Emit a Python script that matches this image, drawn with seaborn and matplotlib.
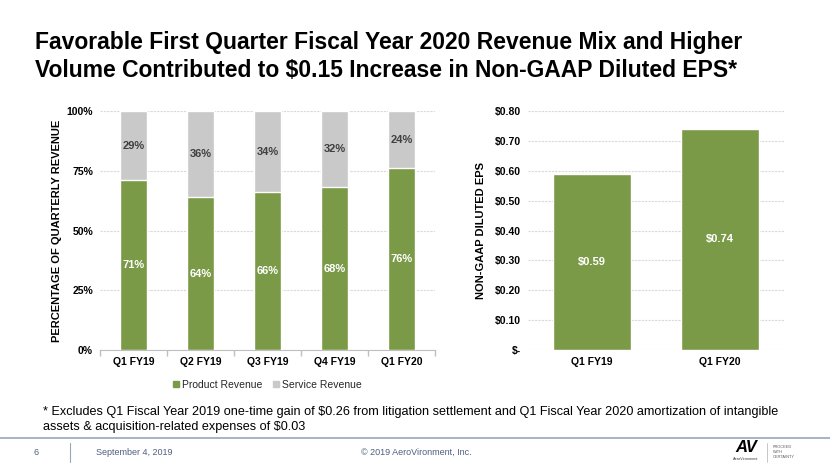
import numpy as np
import pandas as pd
import matplotlib
matplotlib.use("Agg")
import matplotlib.pyplot as plt
import matplotlib.patches as mpatches
import seaborn as sns

# data
quarters = ["Q1 FY19", "Q2 FY19", "Q3 FY19", "Q4 FY19", "Q1 FY20"]
product_pct = [71, 64, 66, 68, 76]
service_pct = [29, 36, 34, 32, 24]

eps_quarters = ["Q1 FY19", "Q1 FY20"]
eps_values = [0.59, 0.74]
eps_ticks = [0.0, 0.1, 0.2, 0.3, 0.4, 0.5, 0.6, 0.7, 0.8]
eps_tick_labels = ["$-", "$0.10", "$0.20", "$0.30", "$0.40", "$0.50", "$0.60", "$0.70", "$0.80"]

GREEN = "#7A9A48"
GRAY = "#C9C9C9"
DARK = "#404040"
GRID = "#D9D9D9"
FOOT = "#4F5F7F"

sns.set_theme(style="white")
plt.rcParams["font.family"] = ["Liberation Sans", "DejaVu Sans"]

fig = plt.figure(figsize=(8.3, 4.67), dpi=100)

# ---- title
fig.text(0.042, 0.908, "Favorable First Quarter Fiscal Year 2020 Revenue Mix and Higher",
         fontsize=16.5, fontweight="bold", va="center", color="black")
fig.text(0.042, 0.848, "Volume Contributed to $0.15 Increase in Non-GAAP Diluted EPS*",
         fontsize=16.5, fontweight="bold", va="center", color="black")

# ---- left: revenue mix (stacked)
df_mix = pd.DataFrame({"quarter": quarters, "product": product_pct, "service": service_pct})
df_mix["total"] = df_mix["product"] + df_mix["service"]

ax1 = fig.add_axes([0.1205, 0.2505, 0.4036, 0.5118])
sns.barplot(data=df_mix, x="quarter", y="total", color=GRAY, width=0.4, saturation=1, ax=ax1, zorder=2)
sns.barplot(data=df_mix, x="quarter", y="product", color=GREEN, width=0.4, saturation=1, ax=ax1, zorder=3)
ax1.set_ylim(0, 100)
ax1.set_xlim(-0.5, len(quarters) - 0.5)
ax1.set_yticks([0, 25, 50, 75, 100])
ax1.set_yticklabels(["0%", "25%", "50%", "75%", "100%"])
ax1.yaxis.grid(True, color=GRID, linewidth=0.8, linestyle=(0, (2, 1)), zorder=0)
ax1.set_axisbelow(True)
for s in ["top", "right", "left"]:
    ax1.spines[s].set_visible(False)
ax1.spines["bottom"].set_color("#BFBFBF")
ax1.spines["bottom"].set_linewidth(0.8)
ax1.set_xlabel("")
ax1.set_ylabel("PERCENTAGE OF QUARTERLY REVENUE", fontsize=8, fontweight="bold", color="black", labelpad=3)
ax1.tick_params(axis="both", labelsize=7.5, colors="black", length=0, pad=5)
for lab in ax1.get_xticklabels() + ax1.get_yticklabels():
    lab.set_fontweight("bold")
# small separators between categories on the x axis
ax1.set_xticks(np.arange(-0.5, len(quarters)), minor=True)
ax1.tick_params(axis="x", which="minor", length=4, color="#BFBFBF", bottom=True)

for i, (p, s) in enumerate(zip(product_pct, service_pct)):
    ax1.text(i, p / 2, f"{p}%", ha="center", va="center", color="white",
             fontsize=8, fontweight="bold", zorder=5)
    ax1.text(i, p + s / 2, f"{s}%", ha="center", va="center", color=DARK,
             fontsize=8, fontweight="bold", zorder=5)

handles = [mpatches.Patch(color=GREEN, label="Product Revenue"),
           mpatches.Patch(color=GRAY, label="Service Revenue")]
ax1.legend(handles=handles, loc="upper center", bbox_to_anchor=(0.5, -0.085), ncol=2,
           frameon=False, fontsize=7.5, handlelength=0.6, handleheight=0.6,
           handletextpad=0.3, columnspacing=1.0)

# ---- right: non-GAAP EPS
df_eps = pd.DataFrame({"quarter": eps_quarters, "eps": eps_values})
ax2 = fig.add_axes([0.636, 0.2505, 0.3084, 0.5118])
sns.barplot(data=df_eps, x="quarter", y="eps", color=GREEN, width=0.61, saturation=1, ax=ax2, zorder=3)
ax2.set_ylim(0, 0.8)
ax2.set_xlim(-0.5, len(eps_quarters) - 0.5)
ax2.set_yticks(eps_ticks)
ax2.set_yticklabels(eps_tick_labels)
ax2.yaxis.grid(True, color=GRID, linewidth=0.8, linestyle=(0, (2, 1)), zorder=0)
ax2.set_axisbelow(True)
for s in ["top", "right", "left", "bottom"]:
    ax2.spines[s].set_visible(False)
ax2.set_xlabel("")
ax2.set_ylabel("NON-GAAP DILUTED EPS", fontsize=8, fontweight="bold", color="black", labelpad=6)
ax2.tick_params(axis="both", labelsize=7.5, colors="black", length=0, pad=5)
for lab in ax2.get_xticklabels() + ax2.get_yticklabels():
    lab.set_fontweight("bold")
for i, v in enumerate(eps_values):
    ax2.text(i, v / 2, f"${v:.2f}", ha="center", va="center", color="white",
             fontsize=8, fontweight="bold", zorder=5)

# ---- footnote and footer
fig.text(0.052, 0.118, "* Excludes Q1 Fiscal Year 2019 one-time gain of $0.26 from litigation settlement "
         "and Q1 Fiscal Year 2020 amortization of intangible", fontsize=9.1,
         va="center", color="black")
fig.text(0.052, 0.085, "assets & acquisition-related expenses of $0.03", fontsize=9.1,
         va="center", color="black")

fig.add_artist(plt.Line2D([0, 1], [0.062, 0.062], color="#9AA5B8", linewidth=1.2))
fig.add_artist(plt.Line2D([0.084, 0.084], [0.011, 0.051], color="#9AA5B8", linewidth=0.8))
fig.text(0.043, 0.032, "6", fontsize=6.5, va="center", ha="center", color=FOOT)
fig.text(0.1157, 0.032, "September 4, 2019", fontsize=6.5, va="center", color=FOOT)
fig.text(0.501, 0.032, "\u00a9 2019 AeroVironment, Inc.", fontsize=6.5, va="center",
         ha="center", color=FOOT)
fig.text(0.899, 0.041, "AV", fontsize=12, fontweight="bold", style="italic", va="center",
         ha="center", color="black")
fig.text(0.899, 0.017, "AeroVironment", fontsize=2.8, va="center", ha="center", color="#404040")
fig.add_artist(plt.Line2D([0.924, 0.924], [0.011, 0.051], color="#BFBFBF", linewidth=0.6))
fig.text(0.931, 0.032, "PROCEED\nWITH\nCERTAINTY", fontsize=2.8, va="center", color="#595959",
         linespacing=1.3)

fig.savefig("out.png", dpi=100)
